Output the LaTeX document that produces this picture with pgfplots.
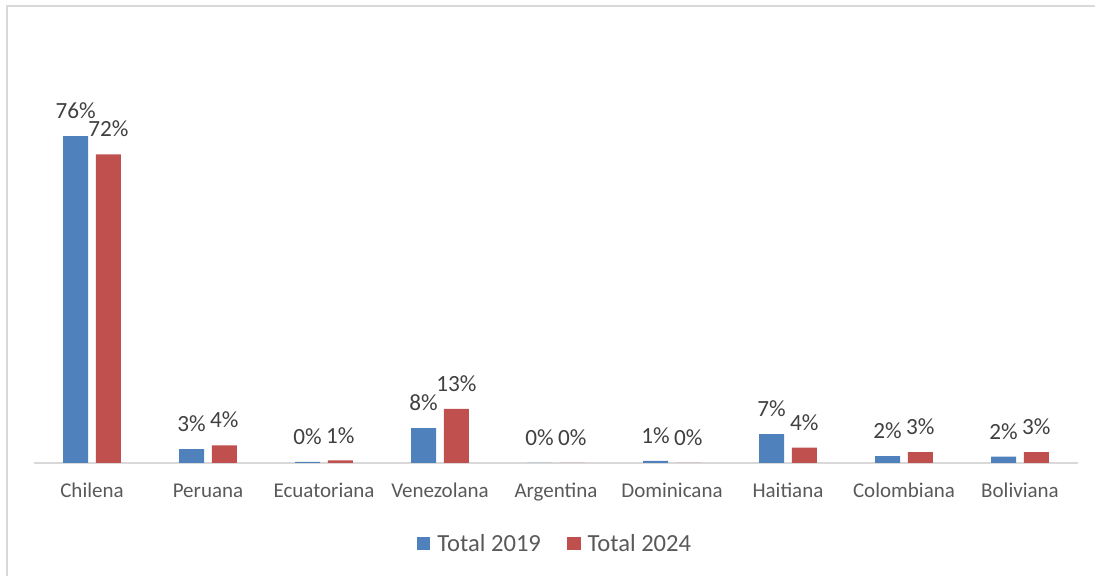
\documentclass[border=0pt]{standalone}
\usepackage{pgfplots}
\pgfplotsset{compat=1.18}
\usepackage{fontspec}
\setmainfont{Carlito}
\definecolor{cblue}{HTML}{4F81BD}
\definecolor{cred}{HTML}{C0504D}
\definecolor{lbl}{HTML}{404040}
\definecolor{cat}{HTML}{595959}
\definecolor{framec}{HTML}{D9D9D9}
\begin{document}
\begin{tikzpicture}
\useasboundingbox (-17pt,-56.5pt) rectangle (530.5pt,231.5pt);
\draw[framec, line width=0.6pt] (-13.5pt,-56.5pt) -- (-13.5pt,228.5pt) -- (530.5pt,228.5pt);
\begin{axis}[
  at={(0,0)}, anchor=south west,
  scale only axis, width=522pt, height=172pt,
  xmin=-0.5, xmax=8.5, ymin=0, ymax=80,
  axis x line=bottom, axis y line=none,
  x axis line style={framec, -, line width=0.9pt},
  xtick={0,...,8},
  xticklabels={Chilena,Peruana,Ecuatoriana,Venezolana,Argentina,Dominicana,Haitiana,Colombiana,Boliviana},
  major tick length=0pt,
  xticklabel style={font=\fontsize{10.5}{12}\selectfont, text=cat, anchor=base, inner sep=0pt, yshift=-17.5pt},
  ybar, bar width=12.5pt,
  nodes near coords, point meta=explicit symbolic,
  nodes near coords style={font=\fontsize{11.6}{13}\selectfont, text=lbl, anchor=base, inner sep=0pt, yshift=8.7pt},
  clip=false,
  legend columns=2,
  legend style={at={(0.5,0)}, anchor=center, yshift=-40.5pt, draw=none, fill=none,
    font=\fontsize{12.3}{13}\selectfont, text=cat,
    /tikz/every odd column/.append style={column sep=1.5pt},
    /tikz/every even column/.append style={column sep=11pt}},
  legend image code/.code={\fill[#1] (0pt,-3.1pt) rectangle (6.8pt,3.5pt);},
]
\addplot[fill=cblue, draw=none, bar shift=-8.2pt] coordinates {
  (0,76.0)[76\%] (1,3.2)[3\%] (2,0.25)[0\%] (3,8.1)[8\%] (4,0)[0\%]
  (5,0.5)[1\%] (6,6.7)[7\%] (7,1.6)[2\%] (8,1.5)[2\%]};
\addplot[fill=cred, draw=none, bar shift=8.2pt] coordinates {
  (0,71.8)[72\%] (1,4.1)[4\%] (2,0.6)[1\%] (3,12.6)[13\%] (4,0)[0\%]
  (5,0.05)[0\%] (6,3.6)[4\%] (7,2.5)[3\%] (8,2.5)[3\%]};
\legend{Total 2019, Total 2024}
\end{axis}
\end{tikzpicture}
\end{document}
